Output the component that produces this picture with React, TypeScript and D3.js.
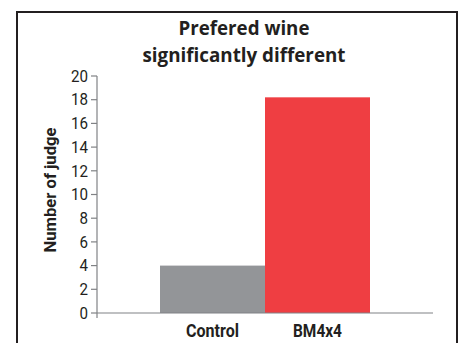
import React from "react";
import * as d3 from "d3";

const categories = ["Control", "BM4x4"];
const values = [4, 18.2];
const barColors = ["#939598", "#EF3E42"];
const yTicks = [0, 2, 4, 6, 8, 10, 12, 14, 16, 18, 20];
const titleLines = ["Prefered wine", "significantly different"];
const yLabel = "Number of judge";

const W = 461;
const H = 343;
const font = "Roboto, 'Liberation Sans', sans-serif";

export default function App() {
  const x = d3.scaleBand<string>().domain(categories).range([97, 433]).paddingInner(0).paddingOuter(0.6);
  const y = d3.scaleLinear().domain([0, 20]).range([313, 76]);
  const axisColor = "#808285";
  const labelWidths = [53, 49];
  return (
    <svg width={W} height={H} style={{ position: "absolute", left: 0, top: 0, background: "#fff" }}>
      <rect x={17} y={12} width={440} height={H} fill="#fff" stroke="#231f20" strokeWidth={2} />
      {titleLines.map((t, i) => (
        <text key={i} x={244} y={35 + i * 27} textAnchor="middle" fontFamily="'Open Sans', sans-serif" fontWeight={700} fontSize={19} fill="#231f20" textLength={i === 0 ? 131 : 203} lengthAdjust="spacingAndGlyphs">
          {t}
        </text>
      ))}
      {categories.map((c, i) => (
        <rect key={c} x={x(c)} y={y(values[i])} width={x.bandwidth()} height={y(0) - y(values[i])} fill={barColors[i]} />
      ))}
      <line x1={x.range()[0]} x2={x.range()[1]} y1={y(0)} y2={y(0)} stroke={axisColor} strokeWidth={1.2} />
      <line x1={97} x2={97} y1={y(20)} y2={y(0) + 5} stroke={axisColor} strokeWidth={1.2} />
      {yTicks.map((t) => (
        <g key={t}>
          <line x1={91} x2={97} y1={y(t)} y2={y(t)} stroke={axisColor} strokeWidth={1.2} />
          <text x={88} y={y(t)} dy="0.36em" textAnchor="end" fontFamily={font} fontSize={16} fill="#231f20" textLength={t >= 10 ? 17 : 8.5} lengthAdjust="spacingAndGlyphs">
            {t}
          </text>
        </g>
      ))}
      <text transform={`translate(50,${190}) rotate(-90)`} textAnchor="middle" dy="0.36em" fontFamily={font} fontWeight={700} fontSize={17} fill="#231f20" textLength={125} lengthAdjust="spacingAndGlyphs">
        {yLabel}
      </text>
      {categories.map((c, i) => (
        <text key={c} x={(x(c) as number) + x.bandwidth() / 2} y={337} textAnchor="middle" fontFamily={font} fontWeight={700} fontSize={18.5} fill="#231f20" textLength={labelWidths[i]} lengthAdjust="spacingAndGlyphs">
          {c}
        </text>
      ))}
    </svg>
  );
}
